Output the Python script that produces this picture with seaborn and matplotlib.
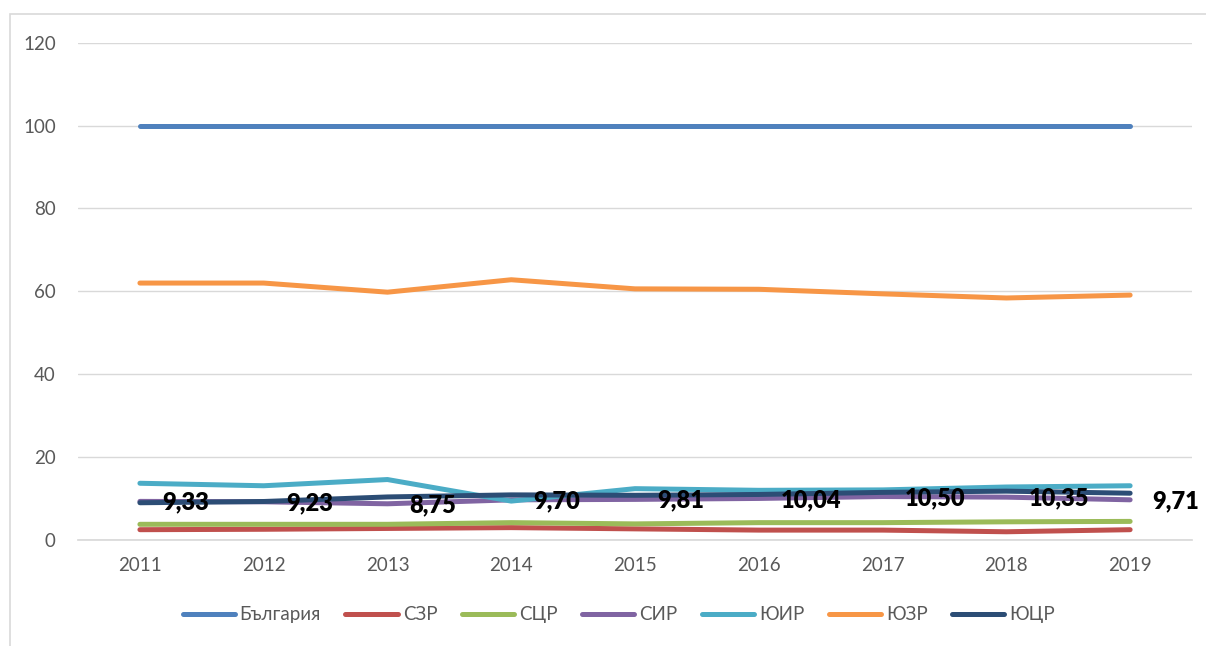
import matplotlib
matplotlib.use("Agg")
import matplotlib.pyplot as plt
from matplotlib.patches import Rectangle
import seaborn as sns
import pandas as pd

# данни
years = ["2011", "2012", "2013", "2014", "2015", "2016", "2017", "2018", "2019"]
bulgaria = [100, 100, 100, 100, 100, 100, 100, 100, 100]
szr = [2.5, 2.6, 2.8, 3.0, 2.7, 2.4, 2.4, 2.0, 2.5]
scr = [3.8, 3.8, 3.8, 4.2, 3.9, 4.2, 4.2, 4.4, 4.5]
sir = [9.33, 9.23, 8.75, 9.70, 9.81, 10.04, 10.50, 10.35, 9.71]
yuir = [13.7, 13.1, 14.6, 9.4, 12.4, 12.0, 12.1, 12.8, 13.1]
yuzr = [62.0, 62.0, 59.8, 62.8, 60.6, 60.5, 59.4, 58.4, 59.1]
yucr = [9.0, 9.3, 10.4, 10.9, 10.8, 11.0, 11.5, 11.8, 11.3]
sir_labels = ["9,33", "9,23", "8,75", "9,70", "9,81", "10,04", "10,50", "10,35", "9,71"]

series = {
    "България": bulgaria,
    "СЗР": szr,
    "СЦР": scr,
    "СИР": sir,
    "ЮИР": yuir,
    "ЮЗР": yuzr,
    "ЮЦР": yucr,
}
colors = ["#4F81BD", "#C0504D", "#9BBB59", "#8064A2", "#4BACC6", "#F79646", "#2C4D75"]

df = pd.DataFrame(
    [(y, name, v) for name, vals in series.items() for y, v in zip(years, vals)],
    columns=["year", "region", "value"],
)

sns.set_theme(style="white")
plt.rcParams["font.family"] = ["Lato", "DejaVu Sans"]

fig = plt.figure(figsize=(12.06, 6.46), dpi=100)
ax = fig.add_axes([0.0647, 0.164, 0.9237, 0.770])

sns.lineplot(data=df, x="year", y="value", hue="region", hue_order=list(series),
             palette=colors, linewidth=3.6, ax=ax, legend=True,
             solid_capstyle="round", sort=False)

# етикети за СИР
for i, lab in enumerate(sir_labels):
    ax.annotate(lab, (i, sir[i]), xytext=(16, -1), textcoords="offset points",
                ha="left", va="center", fontsize=17, fontweight="heavy", color="black")

ax.set_xlim(-0.5, 8.5)
ax.set_ylim(0, 120)
ax.set_yticks(range(0, 121, 20))
ax.grid(axis="y", color="#D9D9D9", linewidth=1)
ax.set_axisbelow(True)
for s in ["top", "right", "left"]:
    ax.spines[s].set_visible(False)
ax.spines["bottom"].set_color("#D9D9D9")
ax.tick_params(axis="both", labelsize=13.5, labelcolor="#595959", length=0, pad=12)
ax.tick_params(axis="y", pad=16)
ax.set_xlabel("")
ax.set_ylabel("")

handles, labels = ax.get_legend_handles_labels()
for h in handles:
    h.set_solid_capstyle("round")
ax.legend(handles, labels, loc="center", bbox_to_anchor=(0.513, 0.048),
          bbox_transform=fig.transFigure, ncol=7, frameon=False, fontsize=13.5,
          handlelength=2.8, handletextpad=0.25, columnspacing=1.3,
          labelcolor="#595959")

fig.patches.append(Rectangle((10 / 1206, -0.1), 1.2, 1.1 - 14 / 646,
                             transform=fig.transFigure, fill=False,
                             edgecolor="#D9D9D9", linewidth=1.2))

fig.savefig("out.png", dpi=100)
